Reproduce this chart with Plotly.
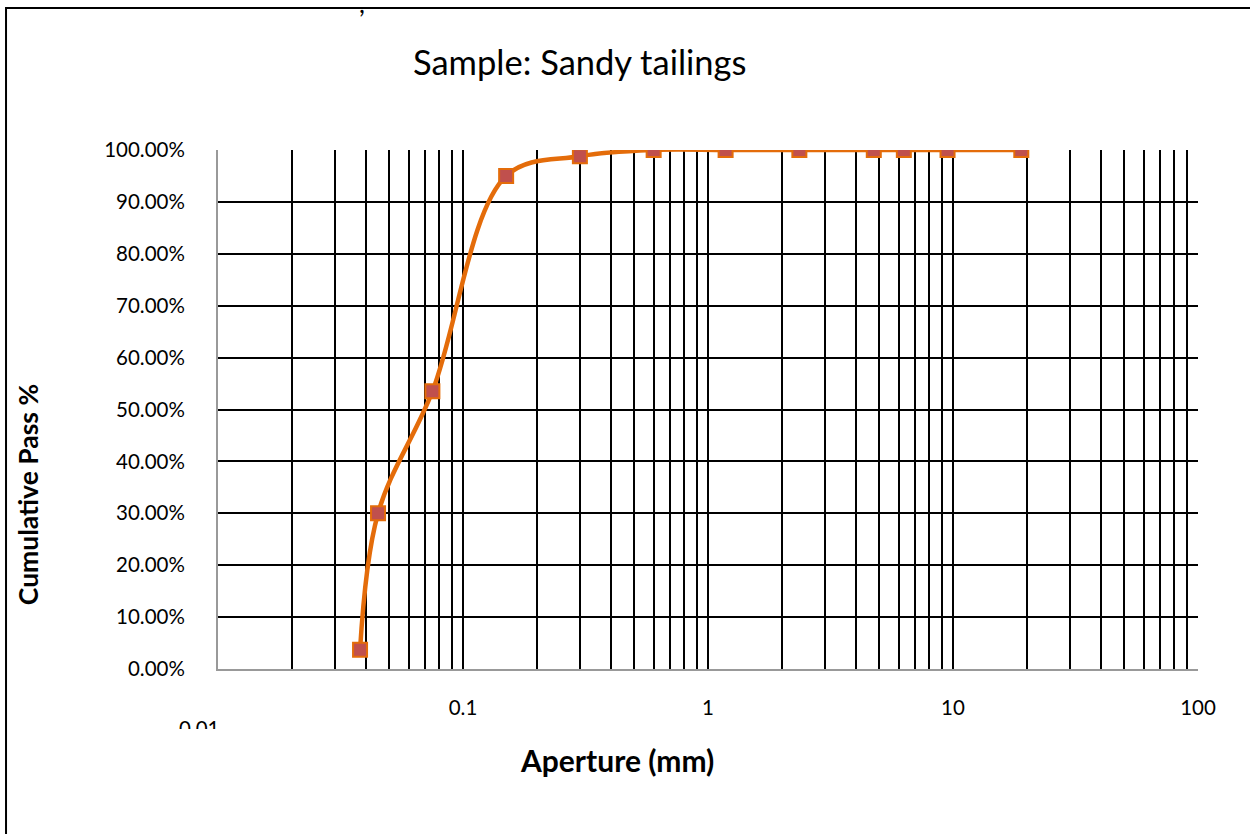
import plotly.graph_objects as go

# Data
aperture_mm = [0.038, 0.045, 0.075, 0.15, 0.3, 0.6, 1.18, 2.36, 4.75, 6.3, 9.5, 19]
cumulative_pass = [0.037, 0.30, 0.535, 0.95, 0.988, 1.0, 1.0, 1.0, 1.0, 1.0, 1.0, 1.0]

title_text = "Sample: Sandy tailings"
x_title = "Aperture (mm)"
y_title = "Cumulative Pass %"

# log grid: every 1..9 x 10^k
decades = [0.01, 0.1, 1, 10]
x_tickvals = [d * m for d in decades for m in range(1, 10)] + [100]
x_labels = {0.1: "0.1", 1: "1", 10: "10", 100: "100"}
x_ticktext = [x_labels.get(round(v, 6), "") for v in x_tickvals]

FONT = "Lato"
TICK_SIZE = 20.5

fig = go.Figure()
fig.add_trace(go.Scatter(
    x=aperture_mm, y=cumulative_pass,
    mode="lines+markers",
    line=dict(color="#E46C0A", width=4.5, shape="spline", smoothing=1.0),
    marker=dict(symbol="square", size=14, color="#C0504D",
                line=dict(color="#E46C0A", width=2)),
    showlegend=False,
))

fig.update_layout(
    width=1250, height=834,
    margin=dict(l=218, r=52, t=150, b=165),
    paper_bgcolor="white", plot_bgcolor="white",
    font=dict(family=FONT, color="black", size=TICK_SIZE),
    xaxis=dict(
        type="log", range=[-2, 2],
        tickmode="array", tickvals=x_tickvals, ticktext=x_ticktext,
        showgrid=True, gridcolor="black", gridwidth=2,
        showline=True, linecolor="#999999", linewidth=2,
        ticks="", ticklabelstandoff=19,
        tickfont=dict(family=FONT, size=TICK_SIZE, color="black"),
        zeroline=False,
    ),
    yaxis=dict(
        range=[0, 1], dtick=0.1, tick0=0, tickformat=".2%",
        showgrid=True, gridcolor="black", gridwidth=2,
        showline=True, linecolor="#999999", linewidth=2,
        ticks="", ticklabelstandoff=27,
        tickfont=dict(family=FONT, size=TICK_SIZE, color="black"),
        zeroline=False,
    ),
    shapes=[
        dict(type="rect", xref="paper", yref="paper",
             x0=-0.2163, x1=1.2, y0=-0.6, y1=1.2736,
             line=dict(color="black", width=2), fillcolor="rgba(0,0,0,0)",
             layer="below"),
    ],
    annotations=[
        dict(text=title_text, xref="paper", yref="paper", x=0.369, y=1.1696,
             xanchor="center", yanchor="middle", showarrow=False,
             font=dict(family=FONT, size=34.5, color="black")),
        dict(text="<b>%s</b>" % x_title, xref="paper", yref="paper", x=0.407, y=-0.1753,
             xanchor="center", yanchor="middle", showarrow=False,
             font=dict(family=FONT, size=30, color="black")),
        dict(text="<b>%s</b>" % y_title, xref="paper", yref="paper", x=-0.1938, y=0.335,
             xanchor="center", yanchor="middle", showarrow=False, textangle=-90,
             font=dict(family=FONT, size=26.5, color="black")),
        dict(text="0.01", xref="paper", yref="paper", x=-0.0184, y=-0.0867,
             xanchor="center", yanchor="top", showarrow=False,
             height=13, valign="top",
             font=dict(family=FONT, size=TICK_SIZE, color="black")),
        dict(text=",", xref="paper", yref="paper", x=0.147, y=1.283,
             xanchor="center", yanchor="middle", showarrow=False,
             font=dict(family=FONT, size=26, color="black")),
    ],
)

fig.write_html("out.html", config={"displayModeBar": False},
               post_script="document.body.style.margin='0';")
